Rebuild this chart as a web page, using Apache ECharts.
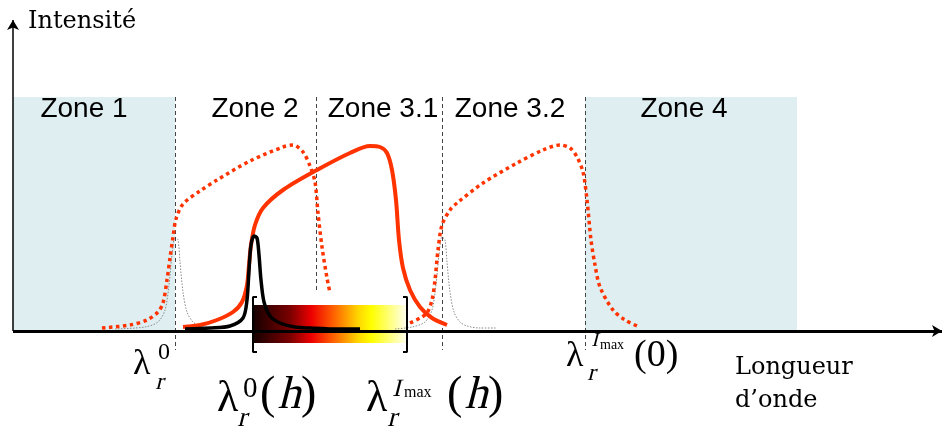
<!DOCTYPE html>
<html><head><meta charset="utf-8">
<script src="https://cdn.jsdelivr.net/npm/echarts/dist/echarts.min.js"></script>
<style>html,body{margin:0;padding:0;background:#fff}#c{width:944px;height:427px}</style>
</head><body><div id="c"></div>
<script>
// ---- data (x: wavelength units, y: intensity units; baseline = 0) ----
const zoneNames = ['Zone 1', 'Zone 2', 'Zone 3.1', 'Zone 3.2', 'Zone 4'];
const zoneLabelX = [84, 255, 383, 510, 684];
const zoneShaded = [[13, 175], [585, 797]];
const zoneTop = 234;
const dividerX = [175, 316, 442, 585];
const dividerBottom = [-19, 38, -19, -19];

const dottedLeft = [[102,3],[130,6],[147,11],[158,19],[163,28],[167,51],[170,73],[173,94],[176,112],[183,127],[200,140],[217,151],[250,170],[283,184],[293,186],[303,179],[310,165],[315,149],[318,118],[322,84],[327,53],[330,38]];
const solidRed = [[183,4],[200,6],[217,11],[233,19],[242,29],[247,46],[249,66],[251,86],[255,106],[263,123],[283,141],[317,161],[350,178],[370,185],[380,184],[387,178],[392,161],[396,131],[399,91],[403,63],[410,41],[420,24],[432,13],[447,6]];
const blackPeak = [[185,2],[210,3],[230,5],[243,13],[247,31],[249,61],[251,86],[254,95],[257,93],[259,76],[261,51],[264,29],[270,15],[280,8],[295,4],[310,3],[340,2],[360,2]];
const greyPeak1 = [[115,2],[145,4],[158,9],[165,21],[169,46],[172,76],[175,94],[178,91],[180,69],[183,39],[187,19],[193,9],[200,5],[215,3]];
const greyPeak2 = [[395,2],[412,4],[425,9],[432,21],[436,46],[439,76],[442,94],[445,91],[447,69],[450,39],[454,19],[460,9],[467,5],[480,3],[497,3]];
const dottedRight = [[410,8],[420,13],[427,18],[432,31],[435,51],[438,81],[442,106],[450,121],[457,128],[483,148],[517,168],[543,181],[560,186],[570,183],[577,174],[583,159],[587,131],[591,91],[595,66],[600,44],[613,21],[625,11],[637,5]];

const bandRange = [253, 407];
const bandY = [26, -12];
const bracketY = [34, -21];
const xAxisEnd = 942;
const yAxisTop = 311;
const axisOrigin = [13, 0];

const RED = '#ff3300';
const chart = echarts.init(document.getElementById('c'));

function curve(data, color, width, type, z) {
  return { type: 'line', data: data, smooth: 0.3, symbol: 'none', silent: true, z: z,
    lineStyle: { color: color, width: width, type: type, cap: 'butt' } };
}
function bracket(x, dir) {
  return { type: 'line', symbol: 'none', silent: true, z: 6,
    data: [[x + 4 * dir, bracketY[0]], [x, bracketY[0]], [x, bracketY[1]], [x + 4 * dir, bracketY[1]]],
    lineStyle: { color: '#000', width: 2 } };
}

const serif = 'Liberation Serif';
// text placed by its baseline (converted to top of line box); italic letters are slanted upright serif glyphs
function txt(s, x, base, size, opts) {
  opts = opts || {};
  const k = opts.k || 0.8;
  const top = base - k * size;
  const el = { type: 'text', x: x, y: top, z: 100, style: { text: s, fill: '#000',
    fontStyle: 'normal', fontSize: size, fontFamily: opts.family || serif,
    textAlign: opts.align || 'left', textVerticalAlign: 'top' } };
  if (opts.italic) {
    // slant around the baseline
    el.x = x; el.y = base; el.style.textVerticalAlign = 'top';
    el.style.y = -k * size;
    el.skewX = -0.25;
  }
  return el;
}

const graphics = [];
zoneNames.forEach((n, i) => graphics.push(txt(n, zoneLabelX[i], 118, 28, { family: 'Liberation Sans', align: 'center' })));
graphics.push(txt('Intensité', 28, 28, 24, { family: 'DejaVu Serif', k: 0.74 }));
graphics.push(txt('Longueur', 735, 374, 24, { family: 'DejaVu Serif', k: 0.74 }));
graphics.push(txt('d\u2019onde', 735, 407, 24, { family: 'DejaVu Serif', k: 0.74 }));
// lambda_r^0
graphics.push(txt('λ', 133, 375, 36));
graphics.push(txt('0', 158, 360, 24));
graphics.push(txt('r', 155, 390, 24, { italic: true }));
// lambda_r^0(h)
graphics.push(txt('λ', 217, 413, 44));
graphics.push(txt('0', 243, 398, 29));
graphics.push(txt('r', 237, 427, 28, { italic: true }));
graphics.push(txt('(', 260, 410, 46));
graphics.push(txt('h', 277, 410, 46, { italic: true }));
graphics.push(txt(')', 301, 410, 46));
// lambda_r^Imax(h)
graphics.push(txt('λ', 366, 413, 44));
graphics.push(txt('I', 392, 397, 25, { italic: true }));
graphics.push(txt('max', 404, 398, 16));
graphics.push(txt('r', 387, 427, 28, { italic: true }));
graphics.push(txt('(', 447, 410, 46));
graphics.push(txt('h', 464, 410, 46, { italic: true }));
graphics.push(txt(')', 488, 410, 46));
// lambda_r^Imax(0)
graphics.push(txt('λ', 566, 367, 36));
graphics.push(txt('I', 591, 347, 20, { italic: true }));
graphics.push(txt('max', 600, 350, 14));
graphics.push(txt('r', 587, 381, 24, { italic: true }));
graphics.push(txt('(0)', 634, 367, 38));

chart.setOption({
  animation: false,
  grid: { left: 0, right: 0, top: 0, bottom: 0 },
  xAxis: { type: 'value', min: 0, max: 944, show: false },
  yAxis: { type: 'value', min: -96, max: 331, show: false },
  graphic: graphics,
  series: [
    { type: 'line', data: [], silent: true, z: 1,
      markArea: { silent: true, itemStyle: { color: '#dfeef1' },
        data: zoneShaded.map(s => [{ coord: [s[0], zoneTop] }, { coord: [s[1], 0] }]) } },
    { type: 'line', data: [], silent: true, z: 2,
      markLine: { silent: true, symbol: 'none', label: { show: false },
        lineStyle: { color: '#444', width: 1, type: [4, 3] },
        data: dividerX.map((x, i) => [{ coord: [x, zoneTop] }, { coord: [x, dividerBottom[i]] }]) } },
    { type: 'line', data: [], silent: true, z: 3,
      markArea: { silent: true,
        itemStyle: { color: new echarts.graphic.LinearGradient(0, 0, 1, 0, [
          { offset: 0, color: '#140000' }, { offset: 0.24, color: '#7a0000' },
          { offset: 0.38, color: '#ee0000' }, { offset: 0.53, color: '#ff6600' },
          { offset: 0.68, color: '#ffd400' }, { offset: 0.77, color: '#ffff00' },
          { offset: 1, color: '#fffff2' }]) },
        data: [[{ coord: [bandRange[0], bandY[0]] }, { coord: [bandRange[1], bandY[1]] }]] } },
    curve(greyPeak1, '#888', 1, [1.5, 1.5], 4),
    curve(greyPeak2, '#888', 1, [1.5, 1.5], 4),
    curve(dottedLeft, RED, 3.5, [3.5, 3.5], 5),
    curve(dottedRight, RED, 3.5, [3.5, 3.5], 5),
    curve(solidRed, RED, 4, 'solid', 6),
    curve(blackPeak, '#000', 3.5, 'solid', 7),
    bracket(bandRange[0], 1),
    bracket(bandRange[1], -1),
    { type: 'line', data: [], silent: true, z: 8,
      markLine: { silent: true, label: { show: false }, symbol: ['none', 'arrow'], symbolSize: [9, 10],
        data: [
          [{ coord: axisOrigin, lineStyle: { color: '#000', width: 3, type: 'solid' } }, { coord: [xAxisEnd, 0] }],
          [{ coord: axisOrigin, lineStyle: { color: '#000', width: 1.5, type: 'solid' } }, { coord: [axisOrigin[0], yAxisTop] }]
        ] } }
  ]
});
</script></body></html>
